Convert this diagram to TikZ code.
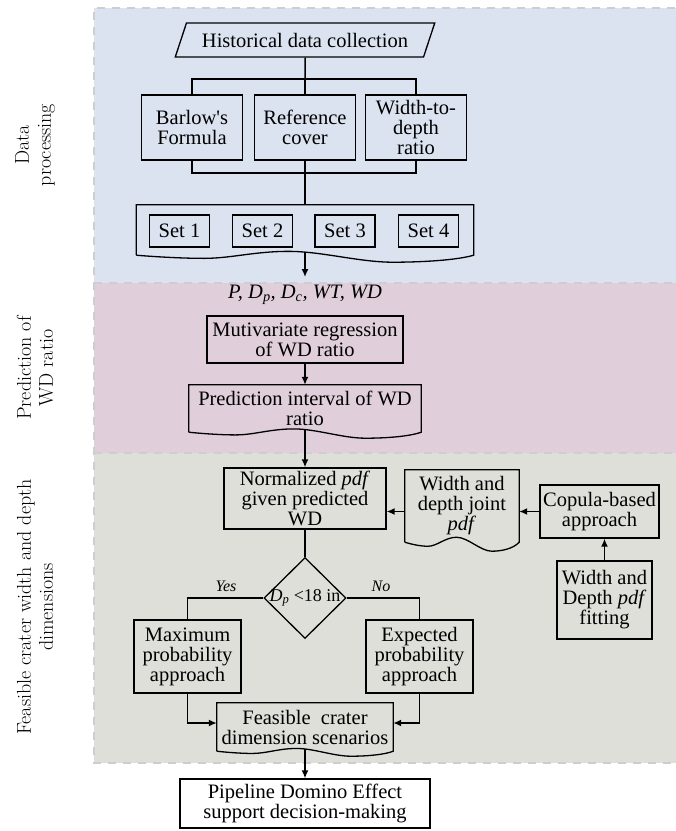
\documentclass[tikz,border=0pt]{standalone}
\usepackage{fontspec}
\newfontfamily\timesfont{Liberation Serif}
\usetikzlibrary{shapes.geometric,arrows.meta}

\definecolor{procblue}{RGB}{220,227,240}
\definecolor{predpink}{RGB}{224,207,218}
\definecolor{feasgrey}{RGB}{222,223,216}
\definecolor{dashgrey}{RGB}{206,206,206}

\newcommand{\subit}[2]{#1\textsubscript{#2}}

% box with a wavy bottom: node, width, wave depth
\newcommand{\docframe}[3]{%
  \draw[line width=1.3pt]
    (#1.south west) -- (#1.north west) -- (#1.north east) -- (#1.south east)
    .. controls +({-0.05*#2},{0.7*#3}) and +({0.09*#2},0) .. ++({-0.24*#2},{#3})
    .. controls +({-0.1*#2},0) and +({0.1*#2},0) .. ++({-0.31*#2},{-1.55*#3})
    .. controls +({-0.1*#2},0) and +({0.08*#2},0) .. ++({-0.25*#2},{1.0*#3})
    .. controls +({-0.07*#2},0) and +({0.05*#2},{0.2*#3}) .. (#1.south west);
}

\begin{document}
\begin{tikzpicture}[
    x=1pt, y=-1pt,
    >={Latex[length=8pt,width=7pt]},
    txt/.style={font=\timesfont\fontsize{20.5}{20}\selectfont, align=center},
    stepbox/.style={txt, draw, line width=1.3pt, inner sep=0pt},
    docbox/.style={txt, inner sep=0pt},
    panel/.style={draw=dashgrey, line width=2.5pt, dash pattern=on 8pt off 7pt},
    side/.style={rotate=90, align=center, font=\fontsize{20}{22}\selectfont},
    link/.style={line width=1.5pt},
    arr/.style={link, ->}
  ]
  \useasboundingbox (0,0) rectangle (676,831);

  % panels
  \fill[procblue] (94,8) rectangle (690,283);
  \fill[predpink] (94,283) rectangle (690,453);
  \fill[feasgrey] (94,453) rectangle (690,763);
  \draw[panel] (690,8) -- (94,8) -- (94,763) -- (690,763);
  \draw[panel] (94,283) -- (690,283);
  \draw[panel] (94,453) -- (690,453);

  \node[side] (lab1) at (35,145) {Data\\processing};
  \node[side] (lab2) at (35,368) {Prediction of\\WD ratio};
  \node[side] (lab3) at (35,607) {Feasible crater width and depth\\dimensions};

  % data processing
  \node[txt, draw, line width=1.3pt, trapezium, trapezium left angle=56,
        trapezium right angle=124, trapezium stretches=true, inner sep=0pt,
        minimum width=260, minimum height=34] (hist) at (305,40)
        {Historical data collection};
  \node[stepbox, minimum width=101, minimum height=65] (barlow) at (192,127.5)
        {Barlow's\\Formula};
  \node[stepbox, minimum width=101, minimum height=65] (refcov) at (305,127.5)
        {Reference\\cover};
  \node[stepbox, minimum width=101, minimum height=65] (wdr) at (416,127.5)
        {Width-to-\\depth\\ratio};
  \coordinate (busA) at (305,79);
  \coordinate (busB) at (305,173);
  \draw[link] (hist.south) -- (busA);
  \draw[link] (barlow.north) -- (barlow.north |- busA) -- (wdr.north |- busA) -- (wdr.north);
  \draw[link] (busA) -- (refcov.north);
  \draw[link] (barlow.south) -- (barlow.south |- busB) -- (wdr.south |- busB) -- (wdr.south);

  \node[docbox, minimum width=337, minimum height=50] (sets) at (305,230) {};
  \docframe{sets}{337}{7}
  \draw[link] (refcov.south) -- (sets.north);
  \foreach \i/\xc in {1/179.5,2/262.5,3/345,4/428.5}
    \node[stepbox, minimum width=60, minimum height=32] (set\i) at (\xc,231) {Set \i};

  \coordinate (enter2) at (305,277);
  \draw[arr] ([yshift=3pt]sets.south) -- (enter2);

  % prediction of WD ratio
  \node[txt, font=\timesfont\itshape\fontsize{20.5}{20}\selectfont] (vars) at (305,295)
        {P, \subit{D}{p}, \subit{D}{c}, WT, WD};
  \node[stepbox, minimum width=196, minimum height=47] (mreg) at (305,339.5)
        {Mutivariate regression\\of WD ratio};
  \node[docbox, minimum width=232, minimum height=47] (pint) at (305,408.5)
        {Prediction interval of WD\\ratio};
  \docframe{pint}{232}{6}
  \draw[arr] (mreg.south) -- (pint.north);

  % feasible crater dimensions
  \node[stepbox, minimum width=162, minimum height=61] (norm) at (305,498.5)
        {Normalized \textit{pdf}\\given predicted\\WD};
  \node[docbox, minimum width=114, minimum height=72] (joint) at (462,506)
        {Width and\\depth joint\\\textit{pdf}};
  \docframe{joint}{114}{9}
  \node[stepbox, minimum width=119, minimum height=53] (copula) at (599.5,511.5)
        {Copula-based\\approach};
  \node[stepbox, minimum width=95, minimum height=78] (fit) at (604.5,600)
        {Width and\\Depth \textit{pdf}\\fitting};
  \draw[arr] ([yshift=3pt]pint.south) -- (norm.north);
  \draw[arr] (fit.north) -- (fit.north |- copula.south);
  \draw[arr] (copula.west) -- (copula.west -| joint.east);
  \draw[arr] (copula.west -| joint.west) -- (copula.west -| norm.east);

  \node[draw, line width=1.3pt, diamond, inner sep=-3pt, minimum width=82, minimum height=81,
        font=\timesfont\fontsize{18}{20}\selectfont] (dia) at (305,598)
        {\subit{\textit{D}}{\textit{p}} <18 in};
  \draw[link] (norm.south) -- (dia.north);

  \node[stepbox, minimum width=107, minimum height=73] (maxp) at (187.5,656.5)
        {Maximum\\probability\\approach};
  \node[stepbox, minimum width=107, minimum height=73] (expp) at (419.5,656.5)
        {Expected\\probability\\approach};
  \draw[link] (dia.west) -| (maxp.north);
  \draw[link] (dia.east) -| (expp.north);
  \node[font=\timesfont\itshape\fontsize{16}{18}\selectfont] (yes) at (226,586) {Yes};
  \node[font=\timesfont\itshape\fontsize{16}{18}\selectfont] (no) at (381,586) {No};

  \node[docbox, minimum width=176, minimum height=48] (feas) at (305,727)
        {Feasible\ \ crater\\dimension scenarios};
  \docframe{feas}{176}{5}
  \draw[arr] (maxp.south) |- ([yshift=4pt]feas.west);
  \draw[arr] (expp.south) |- ([yshift=4pt]feas.east);

  \node[stepbox, minimum width=250, minimum height=49] (pipe) at (305,803.5)
        {Pipeline Domino Effect\\support decision-making};
  \draw[arr] ([yshift=2.5pt]feas.south) -- (pipe.north);
\end{tikzpicture}
\end{document}
